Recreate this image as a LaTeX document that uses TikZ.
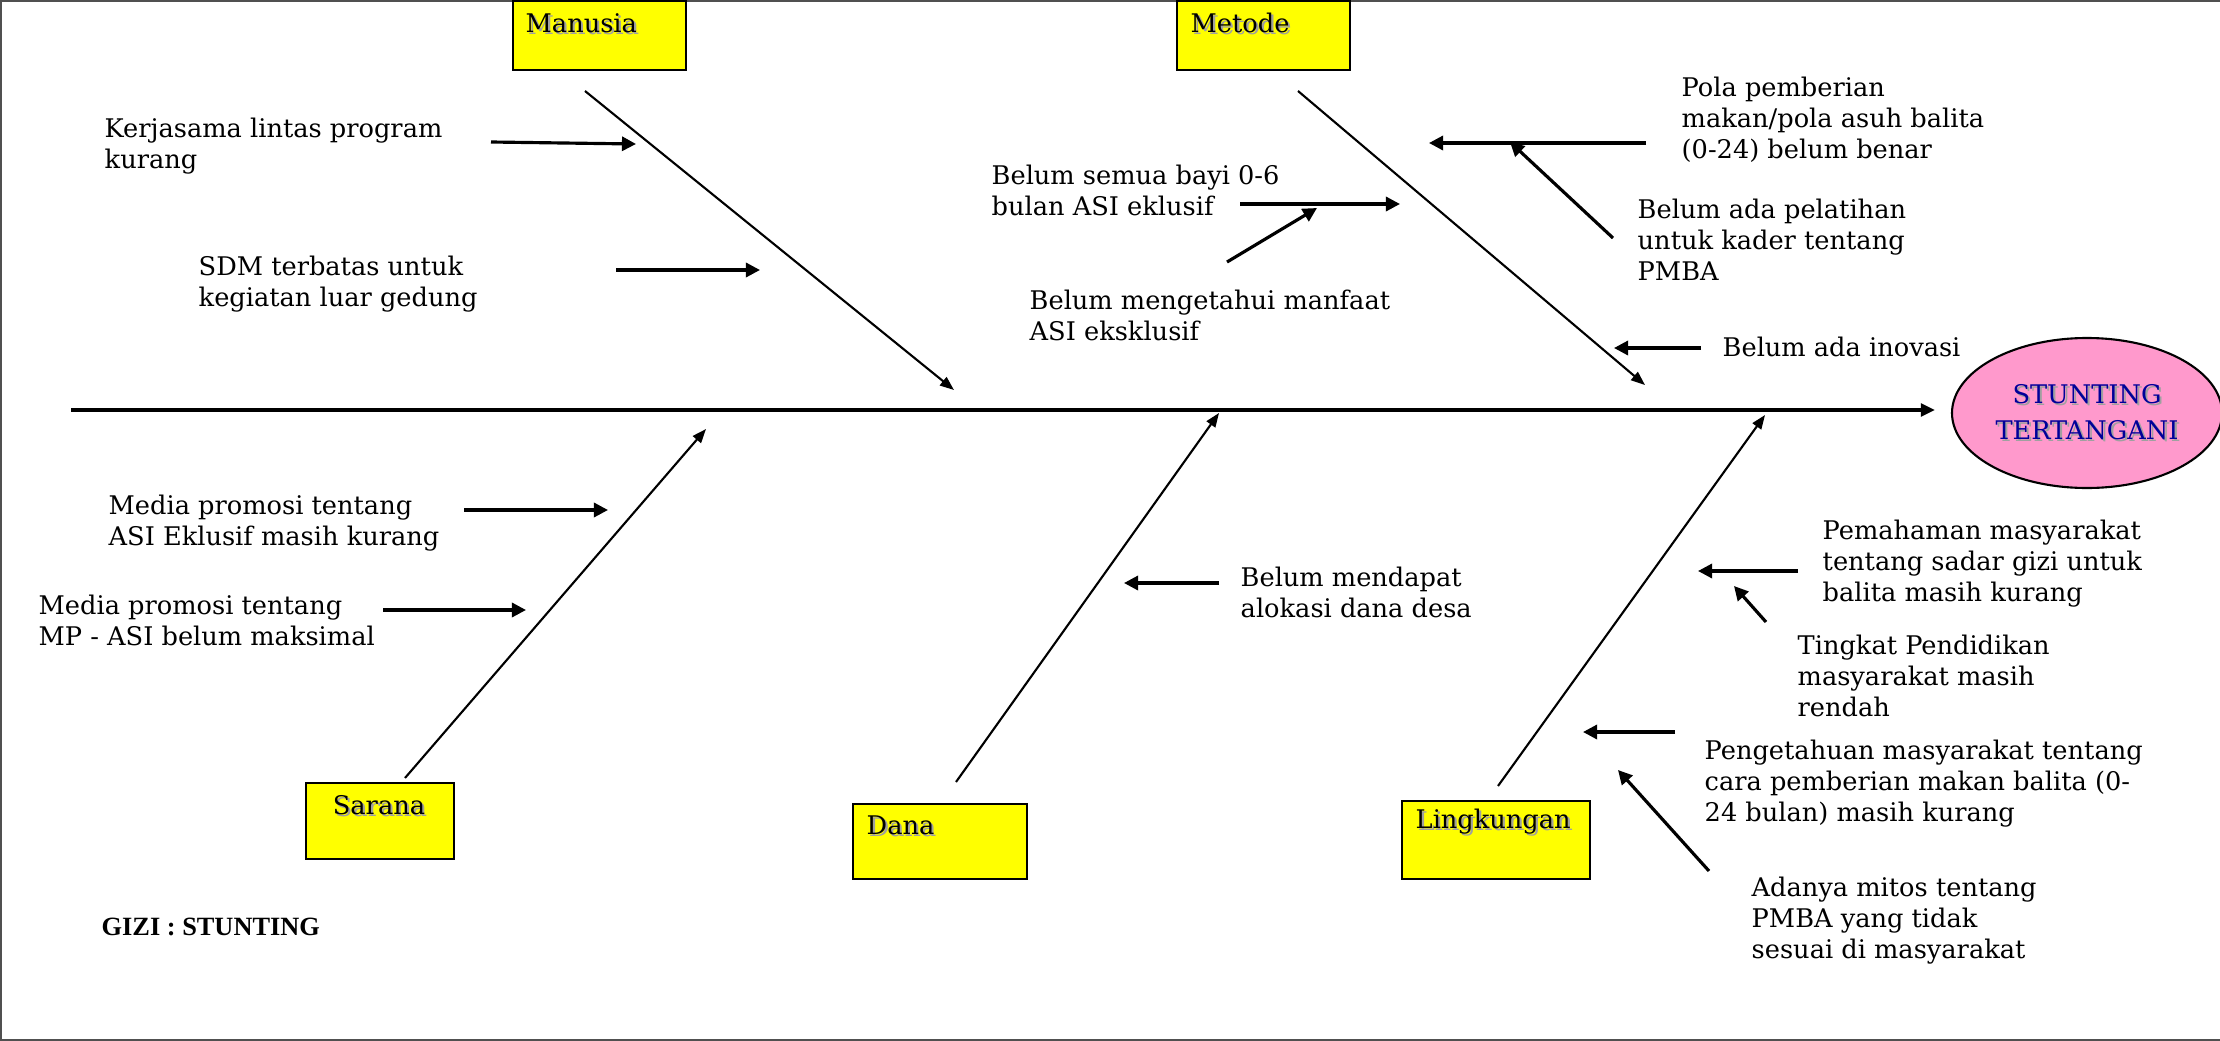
\documentclass[tikz,border=0pt]{standalone}
\usepackage{fontspec}
\setmainfont{DejaVu Serif}
\newfontfamily\giziFont{Liberation Serif}
\usepackage{tikz}
\usetikzlibrary{arrows.meta,shapes.geometric}
\tikzstyle{diagram} = [x = 0.1mm, y = -0.1mm]
\definecolor{boxYellow}{RGB}{255,255,0}
\definecolor{headPink}{RGB}{255,153,204}
\definecolor{headBlue}{RGB}{0,0,153}
\definecolor{frameGray}{RGB}{80,80,80}
\definecolor{shadowGray}{RGB}{160,160,160}
\tikzstyle{frameLine} = [color=frameGray, line width=0.6pt]
\tikzstyle{spineLine} = [color=black, line width=0.9pt, -{Triangle[length=4pt, width=3.6pt]}]
\tikzstyle{boneLine} = [color=black, line width=0.6pt, -{Triangle[length=4pt, width=3pt]}]
\tikzstyle{causeLine} = [color=black, line width=0.9pt, -{Triangle[length=4pt, width=4pt]}]
\tikzstyle{categoryBox} = [draw=black, fill=boxYellow, line width=0.6pt, anchor=north west, inner sep=0]
\tikzstyle{categoryText} = [font=\fontsize{7.3}{8.9}\selectfont, inner sep=0, anchor=west]
\tikzstyle{causeText} = [font=\fontsize{7.3}{8.9}\selectfont, align=left, inner sep=0, anchor=north west]
\tikzstyle{headShape} = [ellipse, draw=black, fill=headPink, line width=0.6pt, minimum width=27mm, minimum height=15mm, inner sep=0, align=center, text=headBlue, font=\fontsize{7.3}{10.3}\selectfont]
\newcommand{\shadowed}[1]{\makebox[0pt][l]{\hspace{0.6pt}\raisebox{-0.6pt}{\textcolor{shadowGray}{#1}}}#1}
\newcommand{\categoryBox}[5]{\node (#1Box) [categoryBox, minimum width=#3, minimum height=#4] at (#2) {};}
\newcommand{\boneArrow}[3]{\coordinate (#1Start) at (#2); \coordinate (#1End) at (#3); \draw [boneLine] (#1Start) -- (#1End);}
\newcommand{\causeArrow}[3]{\coordinate (#1Start) at (#2); \coordinate (#1End) at (#3); \draw [causeLine] (#1Start) -- (#1End);}
\newcommand{\causeLabel}[3]{\node (#1Text) [causeText] at (#2) {#3};}

\begin{document}
\begin{tikzpicture}[diagram]
            \useasboundingbox (0,0) rectangle (2220,1041);
            \draw [frameLine] (2220,1) -- (1,1) -- (1,1040) -- (2220,1040);

            \node (stuntingHead) [headShape] at (2087,413) {\shadowed{STUNTING}\\\shadowed{TERTANGANI}};
            \coordinate (spineTail) at (71,410);
            \coordinate (spineHead) at (1935,410);
            \draw [spineLine] (spineTail) -- (spineHead);

            \categoryBox{manusia}{512,0}{17.3mm}{6.9mm}{}
            \categoryBox{metode}{1176,0}{17.3mm}{6.9mm}{}
            \categoryBox{sarana}{305,782}{14.8mm}{7.6mm}{}
            \categoryBox{dana}{852,803}{17.4mm}{7.5mm}{}
            \categoryBox{lingkungan}{1401,800}{18.8mm}{7.8mm}{}
            \node (manusiaLabel) [categoryText] at (525,24) {\shadowed{Manusia}};
            \node (metodeLabel) [categoryText] at (1190,24) {\shadowed{Metode}};
            \node (saranaLabel) [categoryText, anchor=center] at (379,806) {\shadowed{Sarana}};
            \node (danaLabel) [categoryText] at (866,826) {\shadowed{Dana}};
            \node (lingkunganLabel) [categoryText] at (1415,823) {\shadowed{Lingkungan}};

            \boneArrow{manusia}{585,91}{954,390}
            \boneArrow{metode}{1298,91}{1645,385}
            \boneArrow{sarana}{405,778}{706,429}
            \boneArrow{dana}{956,782}{1219,413}
            \boneArrow{lingkungan}{1498,786}{1765,415}

            \causeLabel{kerjasama}{104,117}{Kerjasama lintas program\\kurang}
            \causeLabel{sdm}{198,255}{SDM terbatas untuk\\kegiatan luar gedung}
            \causeLabel{belumSemua}{991,164}{Belum semua bayi 0-6\\bulan ASI eklusif}
            \causeLabel{belumTahu}{1029,289}{Belum mengetahui manfaat\\ASI eksklusif}
            \causeLabel{pola}{1681,76}{Pola pemberian\\makan/pola asuh balita\\(0-24) belum benar}
            \causeLabel{pelatihan}{1637,198}{Belum ada pelatihan\\untuk kader tentang\\PMBA}
            \causeLabel{inovasi}{1722,336}{Belum ada inovasi}
            \causeLabel{mediaAsi}{108,494}{Media promosi tentang\\ASI Eklusif masih kurang}
            \causeLabel{mediaMp}{38,594}{Media promosi tentang\\MP - ASI belum maksimal}
            \causeLabel{danaDesa}{1240,566}{Belum mendapat\\alokasi dana desa}
            \causeLabel{pemahaman}{1822,519}{Pemahaman masyarakat\\tentang sadar gizi untuk\\balita masih kurang}
            \causeLabel{pendidikan}{1797,634}{Tingkat Pendidikan\\masyarakat masih\\rendah}
            \causeLabel{pengetahuan}{1704,739}{Pengetahuan masyarakat tentang\\cara pemberian makan balita (0-\\24 bulan) masih kurang}
            \causeLabel{mitos}{1751,876}{Adanya mitos tentang\\PMBA yang tidak\\sesuai di masyarakat}

            \causeArrow{kerjasama}{491,142}{636,144}
            \causeArrow{sdm}{616,270}{760,270}
            \causeArrow{belumSemua}{1240,204}{1400,204}
            \causeArrow{belumTahu}{1227,262}{1317,208}
            \causeArrow{pola}{1646,143}{1429,143}
            \causeArrow{pelatihan}{1613,238}{1510,142}
            \causeArrow{inovasi}{1701,348}{1614,348}
            \causeArrow{mediaAsi}{464,510}{608,510}
            \causeArrow{mediaMp}{383,610}{526,610}
            \causeArrow{danaDesa}{1219,583}{1124,583}
            \causeArrow{pemahaman}{1798,571}{1698,571}
            \causeArrow{pendidikan}{1766,622}{1734,586}
            \causeArrow{pengetahuan}{1675,732}{1583,732}
            \causeArrow{mitos}{1709,871}{1618,770}

            \node (giziTitle) [anchor=west, inner sep=0, font=\giziFont\bfseries\fontsize{7.5}{9}\selectfont] at (101,927) {GIZI : STUNTING};
          \end{tikzpicture}
\end{document}
